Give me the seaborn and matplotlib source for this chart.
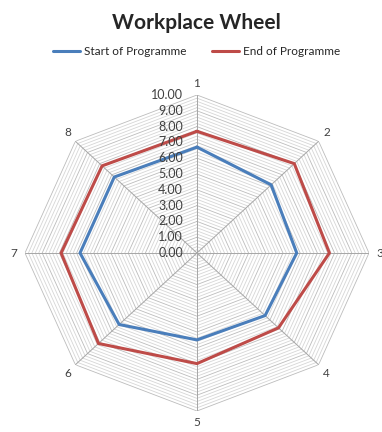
import numpy as np
import pandas as pd
import seaborn as sns
import matplotlib.pyplot as plt

# data
categories = ['1', '2', '3', '4', '5', '6', '7', '8']
start_values = [6.7, 6.1, 5.8, 5.6, 5.5, 6.4, 6.8, 6.8]
end_values = [7.7, 8.0, 7.7, 6.7, 7.0, 8.1, 7.9, 7.8]
series_names = ['Start of Programme', 'End of Programme']
radial_ticks = [0, 1, 2, 3, 4, 5, 6, 7, 8, 9, 10]

sns.set_style('white')
plt.rcParams['font.family'] = ['Lato', 'DejaVu Sans']

n = len(categories)
theta = np.linspace(0, 2 * np.pi, n, endpoint=False)
theta_closed = np.append(theta, 2 * np.pi)

# long table for seaborn, first point repeated to close each polygon
rows = []
for name, vals in zip(series_names, [start_values, end_values]):
    vals_closed = list(vals) + [vals[0]]
    for t, v in zip(theta_closed, vals_closed):
        rows.append({'theta': t, 'value': v, 'series': name})
df = pd.DataFrame(rows)

fig = plt.figure(figsize=(3.82, 4.32), dpi=100)
ax = fig.add_axes([0.0654, 0.0486, 0.9005, 0.7315], projection='polar')
ax.set_theta_zero_location('N')
ax.set_theta_direction(-1)
# the original is stretched sideways, so let the polar box fill the rectangle
ax.set_aspect('auto')

# minor polygon grid every 0.2
for r in np.arange(0.2, 10.01, 0.2):
    major = abs(r - round(r)) < 1e-6
    ax.plot(theta_closed, [r] * (n + 1), color='#bcbcbc' if major else '#d6d6d6',
            lw=0.6, zorder=1)
# spokes
for t in theta:
    ax.plot([t, t], [0, 10], color='#a6a6a6', lw=0.7, zorder=1)

sns.lineplot(data=df, x='theta', y='value', hue='series', sort=False,
             estimator=None, palette=['#4a7ebb', '#be4b48'], lw=2.2, ax=ax, zorder=3)

handles, labels = ax.get_legend_handles_labels()
ax.get_legend().remove()

ax.set_ylim(0, 10)
ax.set_xticks([])
ax.set_yticks([])
ax.grid(False)
ax.spines['polar'].set_visible(False)
ax.set_xlabel('')
ax.set_ylabel('')

# radial value labels to the left of spoke 1
for v in radial_ticks:
    ax.annotate('%.2f' % v, xy=(0, v), xytext=(-10, 0), textcoords='offset points',
                ha='right', va='center', fontsize=9, color='#404040')

# category labels outside each vertex
for t, c in zip(theta, categories):
    ax.annotate(c, xy=(t, 10), xytext=(8 * np.sin(t), 8.5 * np.cos(t)),
                textcoords='offset points', ha='center', va='center',
                fontsize=8.5, color='#404040', annotation_clip=False)

fig.suptitle('Workplace Wheel', x=0.515, y=0.97, fontsize=15, fontweight='bold')
fig.legend(handles, labels, loc='center', bbox_to_anchor=(0.515, 0.88), ncol=2,
           frameon=False, fontsize=8.5, handlelength=2.3, columnspacing=2.2,
           handletextpad=0.3)

plt.savefig('out.png', dpi=100)
